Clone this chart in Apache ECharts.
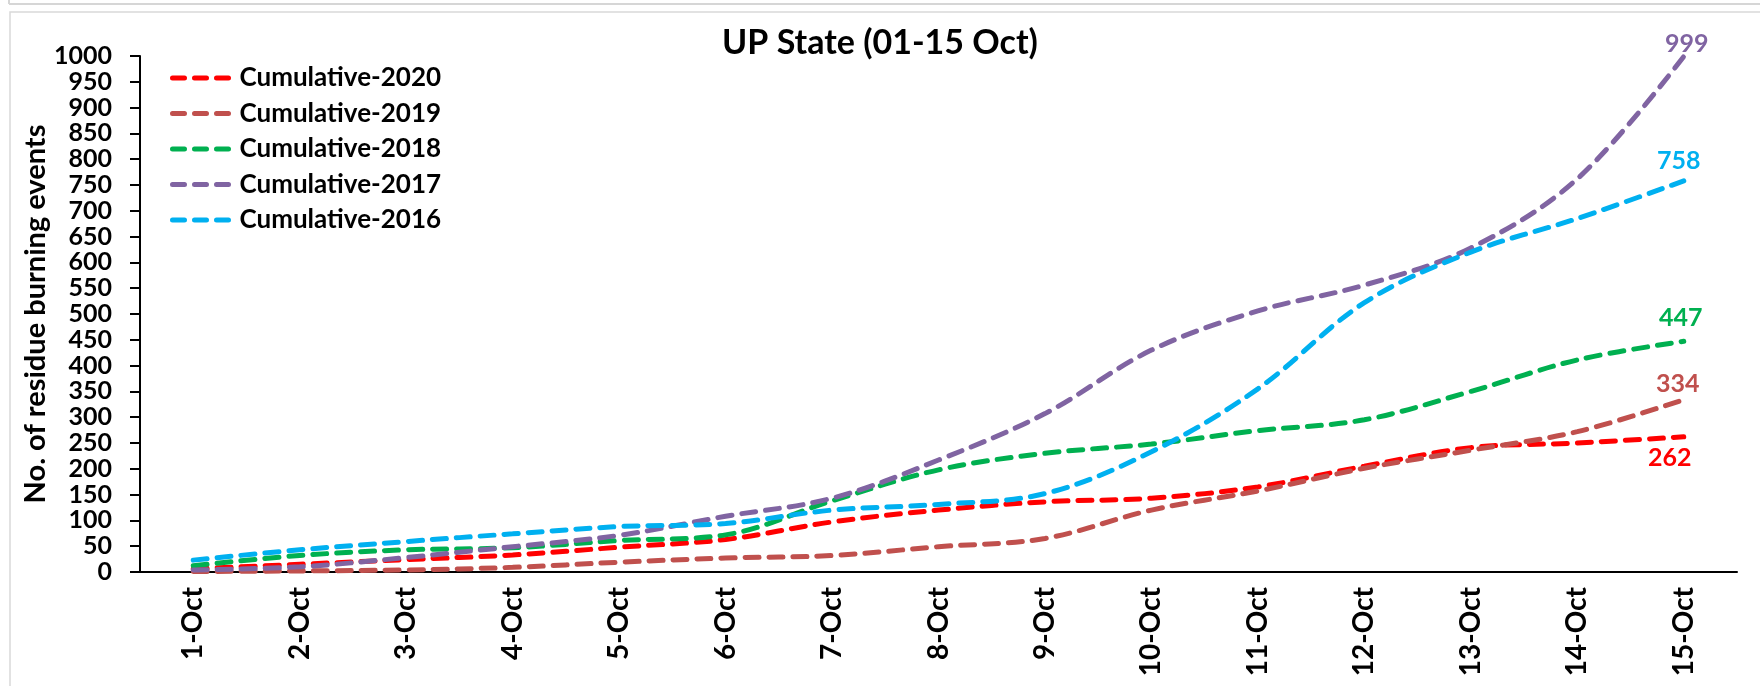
<!DOCTYPE html>
<html>
<head>
<meta charset="utf-8">
<title>UP State (01-15 Oct)</title>
<script src="https://cdn.jsdelivr.net/npm/echarts@6/dist/echarts.min.js"></script>
<style>
  html, body { margin: 0; padding: 0; background: #fff; }
  #chart { width: 1760px; height: 686px; }
</style>
</head>
<body>
<div id="chart"></div>
<script>
// data
var days = ['1-Oct', '2-Oct', '3-Oct', '4-Oct', '5-Oct', '6-Oct', '7-Oct', '8-Oct',
    '9-Oct', '10-Oct', '11-Oct', '12-Oct', '13-Oct', '14-Oct', '15-Oct'];
var cum2020 = [6, 15, 24, 33, 48, 63, 97, 120, 136, 143, 165, 205, 241, 250, 262];
var cum2019 = [1, 2, 4, 9, 19, 27, 32, 49, 65, 120, 157, 201, 236, 272, 334];
var cum2018 = [12, 32, 43, 47, 61, 72, 138, 198, 230, 248, 274, 295, 350, 411, 447];
var cum2017 = [4, 10, 28, 49, 71, 108, 143, 217, 307, 430, 506, 556, 628, 762, 999];
var cum2016 = [23, 43, 59, 74, 88, 94, 120, 131, 152, 233, 355, 522, 620, 685, 758];
var yTicks = { min: 0, max: 1000, step: 50 };

var font = 'Lato, "Open Sans", "Liberation Sans", sans-serif';

// name, values, colour, end label placement
var lines = [
    ['Cumulative-2020', cum2020, '#ff0000', 'bottom', 9, [-14, 0]],
    ['Cumulative-2019', cum2019, '#c0504d', 'top', 3, [-6, 0]],
    ['Cumulative-2018', cum2018, '#00b050', 'top', 11, [-3, 0]],
    ['Cumulative-2017', cum2017, '#8064a2', 'top', 0, [3, 0]],
    ['Cumulative-2016', cum2016, '#00b0f0', 'top', 7, [-5, 0]]
];

// three rounded dashes for the legend key
var dashIcon = 'path://' +
    'M2.5,0h12a2.5,2.5 0 0 1 0,5h-12a2.5,2.5 0 0 1 0,-5z' +
    'M24.5,0h12a2.5,2.5 0 0 1 0,5h-12a2.5,2.5 0 0 1 0,-5z' +
    'M46.5,0h12a2.5,2.5 0 0 1 0,5h-12a2.5,2.5 0 0 1 0,-5z';

var series = lines.map(function (l) {
    var last = l[1].length - 1;
    return {
        name: l[0],
        type: 'line',
        smooth: 0.35,
        symbol: 'none',
        lineStyle: { color: l[2], width: 5, type: [14, 10], cap: 'round' },
        itemStyle: { color: l[2] },
        data: l[1].map(function (v, i) {
            if (i !== last) return v;
            return {
                value: v,
                symbol: 'circle',
                symbolSize: 0.01,
                label: {
                    show: true, position: l[3], distance: l[4], offset: l[5],
                    color: l[2], fontFamily: font, fontWeight: 'bold', fontSize: 25
                }
            };
        })
    };
});

var chart = echarts.init(document.getElementById('chart'));
chart.setOption({
    animation: false,
    backgroundColor: '#fff',
    title: {
        text: 'UP State (01-15 Oct)',
        left: 'center', top: 21,
        textStyle: { fontFamily: font, fontWeight: 'bold', fontSize: 34, color: '#000' }
    },
    legend: {
        orient: 'vertical', left: 165, top: 60,
        icon: dashIcon,
        itemWidth: 62, itemHeight: 5, itemGap: 9.5,
        textStyle: { fontFamily: font, fontWeight: 'bold', fontSize: 26, color: '#000',
            lineHeight: 26, padding: [0, 0, 0, 3] },
        data: lines.map(function (l) { return l[0]; })
    },
    grid: { left: 140, right: 23, top: 56, bottom: 114 },
    xAxis: {
        type: 'category',
        data: days,
        boundaryGap: true,
        axisLine: { lineStyle: { color: '#000', width: 2 } },
        axisTick: { inside: true, length: 8, lineStyle: { color: '#000', width: 2 } },
        axisLabel: { rotate: 90, margin: 15, interval: 0, fontFamily: font,
            fontWeight: 'bold', fontSize: 28, color: '#000' }
    },
    yAxis: {
        type: 'value',
        min: yTicks.min, max: yTicks.max, interval: yTicks.step,
        name: 'No. of residue burning events',
        nameLocation: 'middle', nameGap: 90, nameMoveOverlap: false,
        nameTextStyle: { fontFamily: font, fontWeight: 'bold', fontSize: 29, color: '#000' },
        axisLine: { show: true, lineStyle: { color: '#000', width: 2 } },
        axisTick: { show: true, length: 10, lineStyle: { color: '#000', width: 2 } },
        splitLine: { show: false },
        axisLabel: {
            margin: 28, fontFamily: font, fontWeight: 'bold', fontSize: 25, color: '#000',
            formatter: function (v) { return String(v); }
        }
    },
    graphic: [
        { type: 'line', shape: { x1: 9, y1: 4, x2: 1760, y2: 4 }, style: { stroke: '#d6d6d6', lineWidth: 2 } },
        { type: 'line', shape: { x1: 9, y1: 0, x2: 9, y2: 4 }, style: { stroke: '#d6d6d6', lineWidth: 2 } },
        { type: 'rect', shape: { x: 10, y: 12, width: 1770, height: 700 },
            style: { fill: null, stroke: '#d9d9d9', lineWidth: 1.5 } }
    ],
    series: series
});
</script>
</body>
</html>
